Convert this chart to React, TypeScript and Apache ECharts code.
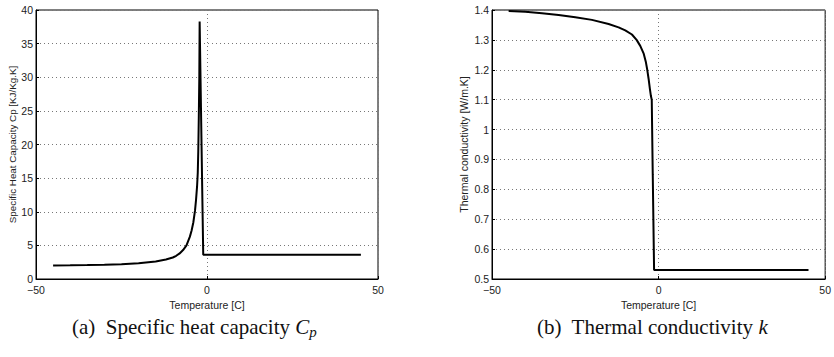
import React, { useEffect, useRef } from "react";
import * as echarts from "echarts";

// Specific heat capacity (left panel)
const cpTemp = [-45, -40, -35, -30, -25, -20, -15, -12, -10, -9, -8, -7, -6, -5, -4.5, -4, -3.5, -3.2, -2.9, -2.7, -2.55, -2.4, -2.25, -2.15, -1.1, 45];
const cpValue = [2.0, 2.03, 2.07, 2.12, 2.2, 2.33, 2.6, 2.9, 3.2, 3.45, 3.8, 4.3, 5.0, 6.3, 7.2, 8.4, 10.2, 11.8, 13.8, 15.8, 19, 24, 30, 38.3, 3.6, 3.6];

// Thermal conductivity (right panel)
const kTemp = [-45, -40, -35, -30, -25, -20, -15, -12, -10, -8, -6.6, -5.5, -4.5, -3.8, -3.4, -3, -2.6, -2.3, -2.05, -1.75, -1.35, 45];
const kValue = [1.397, 1.394, 1.389, 1.383, 1.376, 1.367, 1.353, 1.342, 1.332, 1.318, 1.3, 1.28, 1.255, 1.225, 1.2, 1.17, 1.135, 1.112, 1.1, 0.85, 0.53, 0.53];

const xLabel = "Temperature [C]";
const cpLabel = "Specific Heat Capacity Cp [KJ/Kg.K]";
const kLabel = "Thermal conductivity [W/m.K]";

const SANS = "'Liberation Sans', Arial, sans-serif";
const SERIF = "'Liberation Serif', 'Times New Roman', serif";

const dotted = { type: [1, 3] as any, color: "#777", width: 1 };

function xAxisOf(gridIndex: number) {
  return {
    type: "value",
    gridIndex,
    min: -50,
    max: 50,
    interval: 50,
    name: xLabel,
    nameLocation: "middle",
    nameGap: 20,
    nameTextStyle: { fontFamily: SANS, fontSize: 10.5, color: "#222" },
    axisLine: { show: true, onZero: false, lineStyle: { color: "#000", width: 1 } },
    axisTick: { show: true, inside: true, length: 3, lineStyle: { color: "#000" } },
    axisLabel: {
      fontFamily: SANS,
      fontSize: 10.5,
      color: "#222",
      margin: 5,
      alignMaxLabel: "center",
      formatter: (v: number) => String(v).replace("-", "\u2212"),
    },
    splitLine: { show: true, lineStyle: dotted },
  };
}

function yAxisOf(gridIndex: number, min: number, max: number, interval: number, name: string, nameGap: number, nameSize: number) {
  return {
    type: "value",
    gridIndex,
    min,
    max,
    interval,
    name,
    nameLocation: "middle",
    nameGap,
    nameTextStyle: { fontFamily: SANS, fontSize: nameSize, color: "#222" },
    axisLine: { show: true, onZero: false, lineStyle: { color: "#000", width: 1 } },
    axisTick: { show: true, inside: true, length: 3, lineStyle: { color: "#000" } },
    axisLabel: { fontFamily: SANS, fontSize: 10.5, color: "#222", margin: 3 },
    splitLine: { show: true, lineStyle: dotted },
  };
}

export default function App() {
  const ref = useRef<HTMLDivElement>(null);
  useEffect(() => {
    document.body.style.margin = "0";
    const chart = echarts.init(ref.current!, null, { renderer: "svg" });
    const cpData = cpTemp.map((t, i) => [t, cpValue[i]]);
    const kData = kTemp.map((t, i) => [t, kValue[i]]);
    chart.setOption({
      animation: false,
      backgroundColor: "#fff",
      grid: [
        { left: 36, top: 10, width: 342, height: 269, show: true, borderColor: "#000", borderWidth: 1, backgroundColor: "transparent" },
        { left: 492, top: 10, width: 340, height: 269, show: true, borderColor: "#000", borderWidth: 1, backgroundColor: "transparent" },
      ],
      xAxis: [xAxisOf(0), xAxisOf(1)],
      yAxis: [
        yAxisOf(0, 0, 40, 5, cpLabel, 19, 9.8),
        yAxisOf(1, 0.5, 1.4, 0.1, kLabel, 23, 10.5),
      ],
      series: [
        {
          type: "line",
          xAxisIndex: 0,
          yAxisIndex: 0,
          data: cpData,
          showSymbol: false,
          lineStyle: { color: "#000", width: 2 },
        },
        {
          type: "line",
          xAxisIndex: 1,
          yAxisIndex: 1,
          data: kData,
          showSymbol: false,
          lineStyle: { color: "#000", width: 2 },
        },
      ],
      graphic: [
        {
          type: "text",
          left: 72,
          top: 316,
          style: {
            text: "(a)\u00a0 Specific heat capacity {i|C}{s|p}",
            fontFamily: SERIF,
            fontSize: 21,
            fill: "#111",
            rich: {
              i: { fontFamily: SERIF, fontSize: 21, fontStyle: "italic", fill: "#111" },
              s: { fontFamily: SERIF, fontSize: 15, fontStyle: "italic", fill: "#111", padding: [10, 0, 0, 0] },
            },
          },
        },
        {
          type: "text",
          left: 537,
          top: 316,
          style: {
            text: "(b)\u00a0 Thermal conductivity {i|k}",
            fontFamily: SERIF,
            fontSize: 21,
            fill: "#111",
            rich: {
              i: { fontFamily: SERIF, fontSize: 21, fontStyle: "italic", fill: "#111" },
            },
          },
        },
      ],
    });
    return () => chart.dispose();
  }, []);
  return <div ref={ref} style={{ width: 834, height: 357 }} />;
}
